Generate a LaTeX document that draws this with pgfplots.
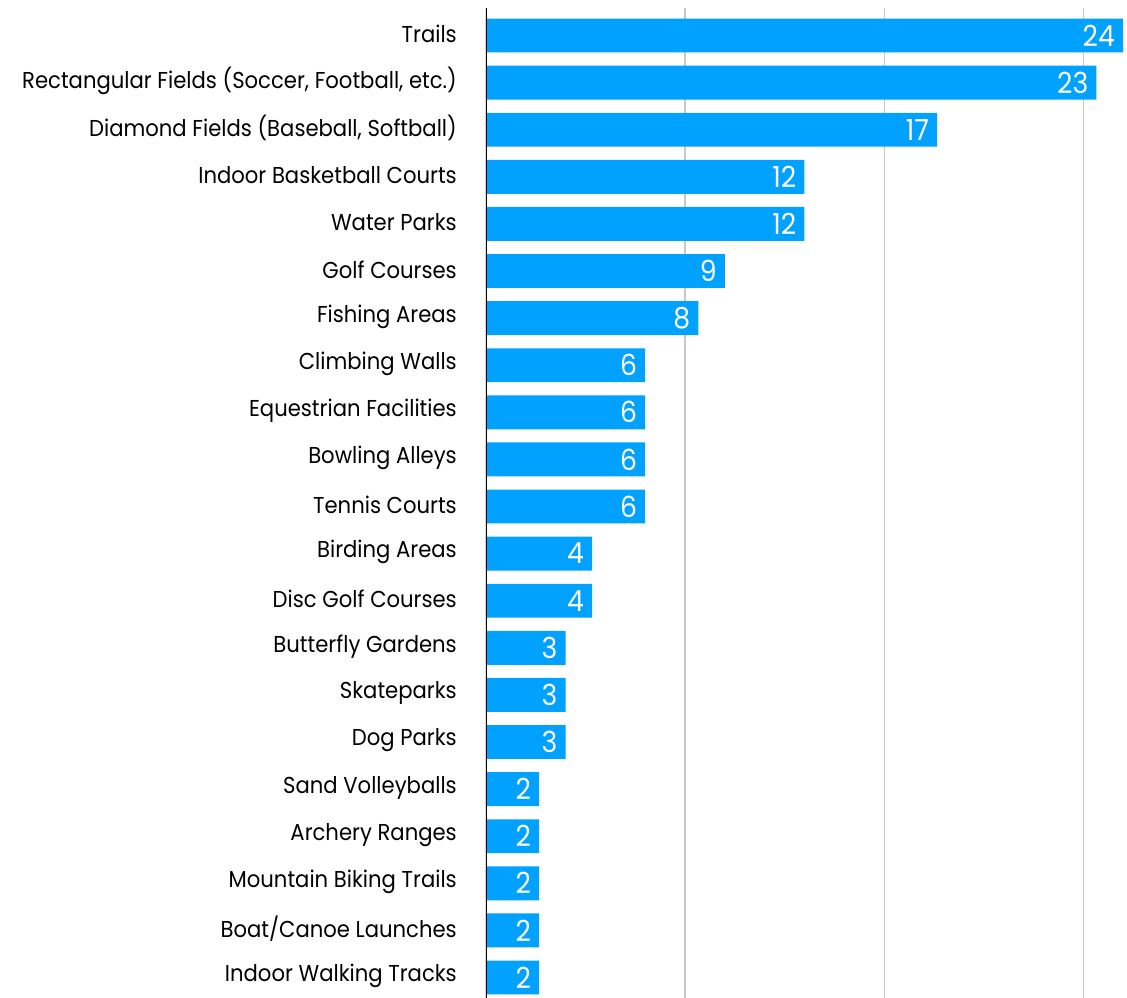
\documentclass[border=0pt]{standalone}
\usepackage{pgfplots}
\pgfplotsset{compat=1.18}
\usepackage{fontspec}
\setmainfont{Poppins}[FakeStretch=0.92]
\definecolor{barblue}{RGB}{0,161,255}
\definecolor{gridgrey}{RGB}{200,200,200}
\begin{document}
\begin{tikzpicture}
  \begin{axis}[
      name=ax,
      scale only axis,
      width=637pt, height=990pt,
      xbar, bar width=0.72,
      xmin=0, xmax=24,
      ymin=-0.584, ymax=20.435,
      y dir=reverse,
      axis line style={draw=none},
      xtick={7.5,15,22.5}, xticklabels={},
      xmajorgrids, major grid style={gridgrey, line width=1.2pt},
      ytick=data,
      yticklabels={Trails, {Rectangular Fields (Soccer, Football, etc.)},
        {Diamond Fields (Baseball, Softball)}, Indoor Basketball Courts,
        Water Parks, Golf Courses, Fishing Areas, Climbing Walls,
        Equestrian Facilities, Bowling Alleys, Tennis Courts, Birding Areas,
        Disc Golf Courses, Butterfly Gardens, Skateparks, Dog Parks,
        Sand Volleyballs, Archery Ranges, Mountain Biking Trails,
        Boat/Canoe Launches, Indoor Walking Tracks},
      major tick length=0pt,
      yticklabel style={font=\fontsize{23}{23}\selectfont, inner sep=0pt, anchor=east, xshift=-29pt, yshift=1.5pt},
      /pgf/number format/assume math mode=true,
      nodes near coords,
      nodes near coords style={font=\fontsize{29}{29}\selectfont, text=white, anchor=east, inner sep=0pt, xshift=-8pt},
    ]
    \addplot[draw=none, fill=barblue] coordinates {
      (24,0) (23,1) (17,2) (12,3) (12,4) (9,5) (8,6) (6,7) (6,8) (6,9)
      (6,10) (4,11) (4,12) (3,13) (3,14) (3,15) (2,16) (2,17) (2,18)
      (2,19) (2,20)
    };
    \draw[black, line width=2.5pt] (rel axis cs:0,0) -- (rel axis cs:0,1);
  \end{axis}
  \pgfresetboundingbox
  \path ([xshift=-486pt]ax.south west) rectangle ([xshift=641pt, yshift=998pt]ax.south west);
\end{tikzpicture}
\end{document}
